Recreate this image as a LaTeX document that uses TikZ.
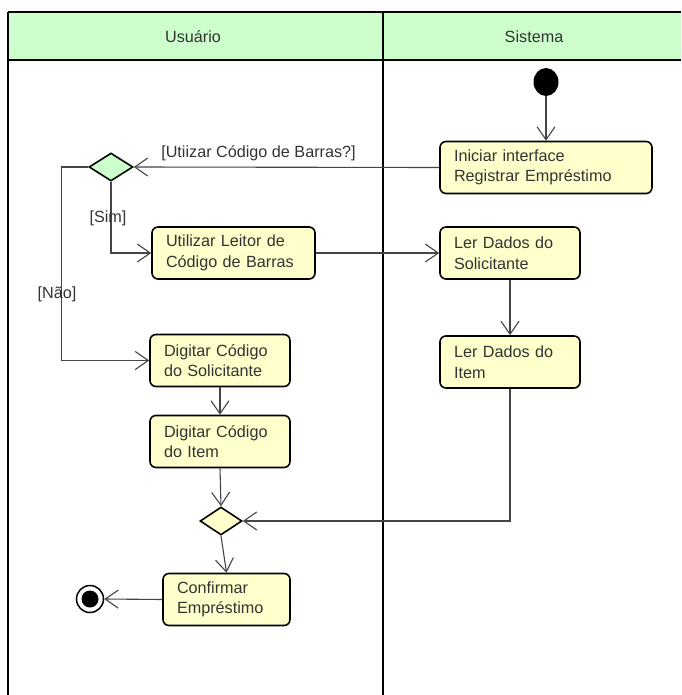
\documentclass[tikz,border=0pt]{standalone}
\usepackage{fontspec}
\setmainfont{Liberation Sans}
\usetikzlibrary{arrows.meta,shapes.geometric}
\definecolor{lanegreen}{HTML}{CCFFCC}
\definecolor{actfill}{HTML}{FFFFCC}
\definecolor{txtgray}{HTML}{333333}
\definecolor{flowgray}{HTML}{444444}
\tikzset{
  act/.style={draw=black, line width=1.6pt, rounded corners=6pt, fill=actfill,
    text width=#1, align=left, inner xsep=14pt, inner ysep=0pt,
    minimum height=52pt, text=txtgray,
    font=\fontsize{16.2}{20.5}\selectfont},
  choice/.style={diamond, draw=black, line width=1.6pt, inner sep=0pt,
    minimum width=44pt, minimum height=28pt},
  flow/.style={draw=flowgray, line width=1.1pt,
    -{Straight Barb[length=13pt,width=18pt,line width=1.1pt]}},
  lbl/.style={text=txtgray, inner sep=0pt, font=\fontsize{16.2}{20.5}\selectfont},
  lane/.style={draw=black, line width=2pt},
}
\begin{document}
\begin{tikzpicture}[x=1pt,y=-1pt]
\useasboundingbox (0,0) rectangle (681,695);

% swimlane header and borders
\fill[lanegreen] (8,12) rectangle (681,60);
\draw[lane] (8,12) -- (681,12);
\draw[lane] (8,60) -- (681,60);
\draw[lane] (8,12) -- (8,695);
\draw[lane] (383,12) -- (383,695);
\node[lbl] (laneU) at (193,37) {Usuário};
\node[lbl] (laneS) at (534,37) {Sistema};

% start and end
\node[ellipse, fill=black, minimum width=25pt, minimum height=28pt, inner sep=0pt] (start) at (546,82) {};
\node[circle, draw=black, line width=1.5pt, fill=white, minimum size=27pt, inner sep=0pt] (final) at (90,599) {};
\node[circle, fill=black, minimum size=17pt, inner sep=0pt] (finaldot) at (final.center) {};

% actions
\node[act=184pt] (ini) at (546,167.5) {Iniciar interface\\Registrar Empréstimo};
\node[act=135pt] (util) at (233.5,253) {Utilizar Leitor de\\Código de Barras};
\node[act=112pt] (lersol) at (510,253) {Ler Dados do\\Solicitante};
\node[act=112pt] (leritem) at (510,362) {Ler Dados do\\Item};
\node[act=112pt] (digsol) at (220,360.5) {Digitar Código\\do Solicitante};
\node[act=112pt] (digitem) at (220,441.5) {Digitar Código\\do Item};
\node[act=99pt] (conf) at (226.5,599.5) {Confirmar\\Empréstimo};

% decision and merge
\node[choice, fill=lanegreen] (dec) at (111,167) {};
\node[choice, fill=actfill, minimum width=42pt] (merge) at (221,521) {};

% flows
\draw[flow] (start) -- (ini);
\draw[flow] (ini.west) -- (dec.east);
\node[lbl] (lq) at (258.5,153) {[Utiizar Código de Barras?]};
\draw[flow] (dec.south) |- (util.west);
\node[lbl] (lsim) at (108,218) {[Sim]};
\draw[flow] (dec.west) -- ++(-27,0) |- (digsol.west);
\node[lbl] (lnao) at (57,294) {[Não]};
\draw[flow] (util.east) -- (lersol.west);
\draw[flow] (lersol.south) -- (leritem.north);
\draw[flow] (digsol.south) -- (digitem.north);
\draw[flow] (digitem.south) -- (merge.north);
\draw[flow] (leritem.south) |- (merge.east);
\draw[flow] (merge.south) -- (conf.north);
\draw[flow] (conf.west) -- (final.east);
\end{tikzpicture}
\end{document}
